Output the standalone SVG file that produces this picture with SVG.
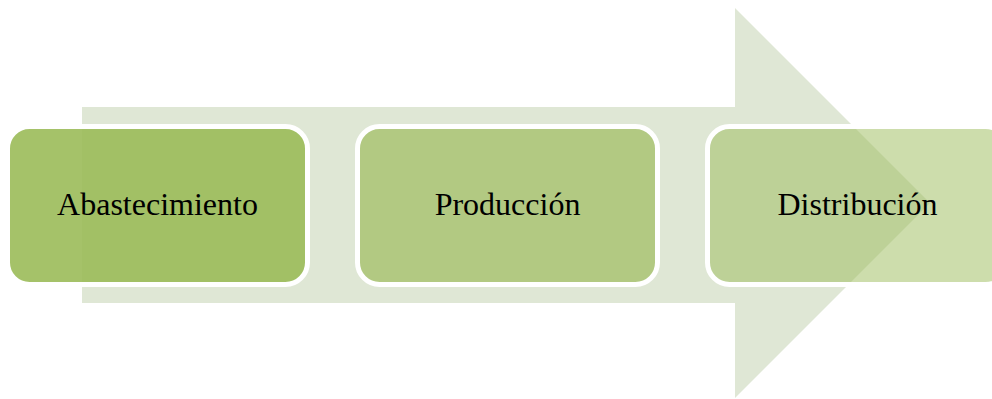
<svg xmlns="http://www.w3.org/2000/svg" width="992" height="399" viewBox="0 0 992 399">
<style>
.box{fill:#9bbb59;stroke:#ffffff;stroke-width:5}
.lbl{font-family:"Liberation Serif","Times New Roman",serif;font-size:32px;fill:#000000;text-anchor:middle}
</style>
<rect width="992" height="399" fill="#ffffff"/>
<g id="connectors">
<polygon id="arrow" points="82,107 735,107 735,8 930,203 735,398 735,303 82,303" fill="#dfe7d5"/>
</g>
<g id="node1">
<rect class="box" x="7.5" y="126.5" width="300" height="158" rx="22" fill-opacity="0.9"/>
<text class="lbl" x="157.5" y="215">Abastecimiento</text>
</g>
<g id="node2">
<rect class="box" x="357.5" y="126.5" width="300" height="158" rx="22" fill-opacity="0.67"/>
<text class="lbl" x="507.5" y="215">Producción</text>
</g>
<g id="node3">
<rect class="box" x="707.5" y="126.5" width="300" height="158" rx="22" fill-opacity="0.5"/>
<text class="lbl" x="857.5" y="215">Distribución</text>
</g>
</svg>
